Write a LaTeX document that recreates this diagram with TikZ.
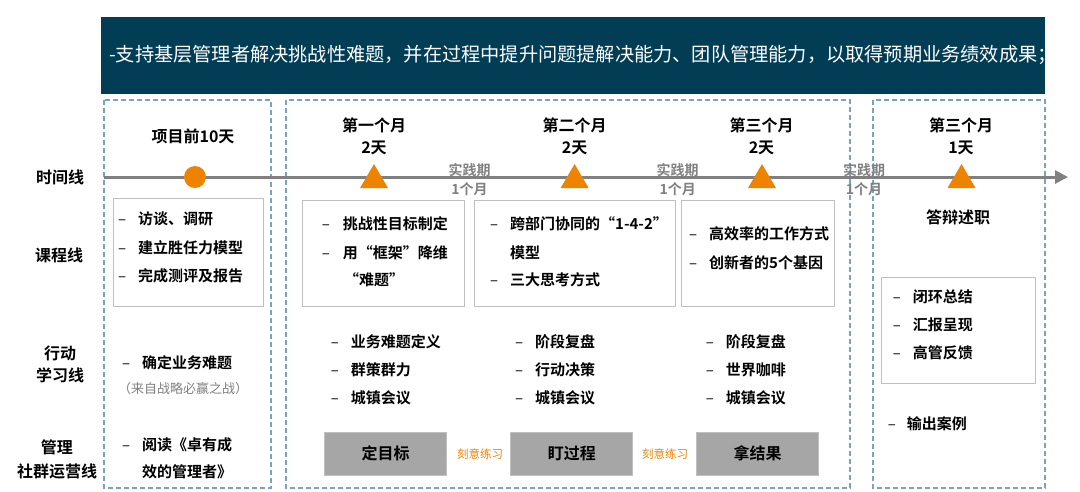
\documentclass[tikz,border=0pt]{standalone}
\usepackage{fontspec}
\setmainfont{Noto Sans CJK SC}[BoldFont={Noto Sans CJK SC Bold}]
\usetikzlibrary{arrows.meta}

\definecolor{bannerblue}{HTML}{023D56}
\definecolor{framec}{HTML}{7BA3BC}
\definecolor{markorange}{HTML}{EE8300}
\definecolor{boxline}{HTML}{BFBFBF}
\definecolor{goalgray}{HTML}{A6A6A6}
\definecolor{linegray}{HTML}{808080}

% list entry: name, dash x, text x, y, text
\newcommand{\listitem}[5]{%
  \node[bullet] (#1-d) at (#2,#4) {\vphantom{访}–};
  \node[item] (#1) at (#3,#4) {#5};}

\begin{document}
\begin{tikzpicture}[x=1pt,y=-1pt,
    framebox/.style={draw=framec, line width=2pt, dash pattern=on 5pt off 3pt},
    listbox/.style={draw=boxline, line width=1pt, fill=white},
    goalbox/.style={draw=boxline, fill=goalgray, line width=1pt, minimum width=122pt,
      minimum height=43pt, inner sep=0pt, font=\fontsize{16}{20}\selectfont\bfseries},
    rowlabel/.style={font=\fontsize{16}{22}\selectfont\bfseries, align=center, inner sep=0pt},
    head/.style={font=\fontsize{16}{22}\selectfont\bfseries, align=center, inner sep=0pt},
    practice/.style={font=\fontsize{14}{19}\selectfont\bfseries, text=linegray, align=center, inner sep=0pt},
    drill/.style={font=\fontsize{11.5}{14}\selectfont, text=markorange, inner sep=0pt},
    item/.style={anchor=west, inner sep=0pt, font=\fontsize{15}{18}\selectfont\bfseries},
    bullet/.style={anchor=west, inner sep=0pt, font=\fontsize{15}{18}\selectfont}]
  \useasboundingbox (0,0) rectangle (1080,491);

  % Goal banner
  \fill[bannerblue] (101,17) rectangle (1045,94);
  \node[anchor=west, inner sep=0pt, text=white, font=\fontsize{19.2}{22}\selectfont] (goal) at (109,55)
    {-支持基层管理者解决挑战性难题，并在过程中提升问题提解决能力、团队管理能力，以取得预期业务绩效成果；};

  % Phase frames
  \draw[framebox] (104,100) rectangle (271,488);
  \draw[framebox] (286,100) rectangle (850,488);
  \draw[framebox] (873,100) rectangle (1045,488);

  % Row labels
  \node[rowlabel] (r-time) at (60,177) {时间线};
  \node[rowlabel] (r-course) at (59,255) {课程线};
  \node[rowlabel] (r-action) at (60,364.5) {行动\\学习线};
  \node[rowlabel, font=\fontsize{16}{24}\selectfont\bfseries] (r-club) at (57,459) {管理\\社群运营线};

  % Timeline
  \coordinate (tl-start) at (104,177);
  \coordinate (tl-end) at (1068,177);
  \draw[linegray, line width=3pt, -{Triangle[length=13pt,width=13pt]}] (tl-start) -- (tl-end);
  \node[circle, fill=markorange, minimum size=22pt, inner sep=0pt] (m0) at (195,177) {};
  \foreach \x in {374,574.6,762,961.5}
    \fill[markorange] (\x,164) -- (\x+14,188) -- (\x-14,188) -- cycle;

  % Phase heads
  \node[head] (h0) at (193,136) {项目前10天};
  \node[head] (h1) at (374,136) {第一个月\\2天};
  \node[head] (h2) at (574.6,136) {第二个月\\2天};
  \node[head] (h3) at (761.5,136) {第三个月\\2天};
  \node[head] (h4) at (961,136) {第三个月\\1天};

  % Practice periods
  \node[practice] (p1) at (469.6,179.5) {实践期\\1个月};
  \node[practice] (p2) at (677.7,179.5) {实践期\\1个月};
  \node[practice] (p3) at (864,179.5) {实践期\\1个月};

  % Course line
  \draw[listbox] (113,198) rectangle (263,306);
  \listitem{c0a}{118}{138}{219}{访谈、调研}
  \listitem{c0b}{118}{138}{247.5}{建立胜任力模型}
  \listitem{c0c}{118}{138}{276}{完成测评及报告}

  \draw[listbox] (302.7,200.7) rectangle (464,306);
  \listitem{c1a}{321.7}{342.7}{224}{挑战性目标制定}
  \listitem{c1b}{321.7}{342.7}{252.5}{用“框架”降维}
  \node[item] (c1c) at (344,280) {“难题”};

  \draw[listbox] (474,200) rectangle (675,306);
  \listitem{c2a}{490}{510}{224}{跨部门协同的“1-4-2”}
  \node[item] (c2b) at (510,252.5) {模型};
  \listitem{c2c}{490}{510}{280}{三大思考方式}

  \draw[listbox] (681.7,200.7) rectangle (834,306);
  \listitem{c3a}{689}{709}{234}{高效率的工作方式}
  \listitem{c3b}{689}{709}{262.5}{创新者的5个基因}

  \node[head] (c4) at (958,217) {答辩述职};
  \draw[listbox] (881.7,277) rectangle (1035,383);
  \listitem{c4a}{892.7}{912.7}{296.5}{闭环总结}
  \listitem{c4b}{892.7}{912.7}{325}{汇报呈现}
  \listitem{c4c}{892.7}{912.7}{353}{高管反馈}

  % Action learning line
  \listitem{a0}{122}{142}{363}{确定业务难题}
  \node[inner sep=0pt, text=linegray, font=\fontsize{13}{16}\selectfont] (a0-note) at (183,389) {（来自战略必赢之战）};

  \listitem{a1a}{330.7}{350.7}{341.5}{业务难题定义}
  \listitem{a1b}{330.7}{350.7}{369.5}{群策群力}
  \listitem{a1c}{330.7}{350.7}{397.5}{城镇会议}

  \listitem{a2a}{515}{535}{341.5}{阶段复盘}
  \listitem{a2b}{515}{535}{369.5}{行动决策}
  \listitem{a2c}{515}{535}{397.5}{城镇会议}

  \listitem{a3a}{705.7}{725.7}{341.5}{阶段复盘}
  \listitem{a3b}{705.7}{725.7}{369.5}{世界咖啡}
  \listitem{a3c}{705.7}{725.7}{397.5}{城镇会议}

  \listitem{a4}{887.7}{906.7}{424}{输出案例}

  % Management community line
  \listitem{k0a}{122}{142}{445}{阅读《卓有成}
  \node[item] (k0b) at (142,472) {效的管理者》};

  \node[goalbox] (g1) at (385.5,453.5) {定目标};
  \node[goalbox] (g2) at (571.9,453.5) {盯过程};
  \node[goalbox] (g3) at (757.7,453.5) {拿结果};
  \node[drill] (d1) at (480,454) {刻意练习};
  \node[drill] (d2) at (665,454) {刻意练习};
\end{tikzpicture}
\end{document}
